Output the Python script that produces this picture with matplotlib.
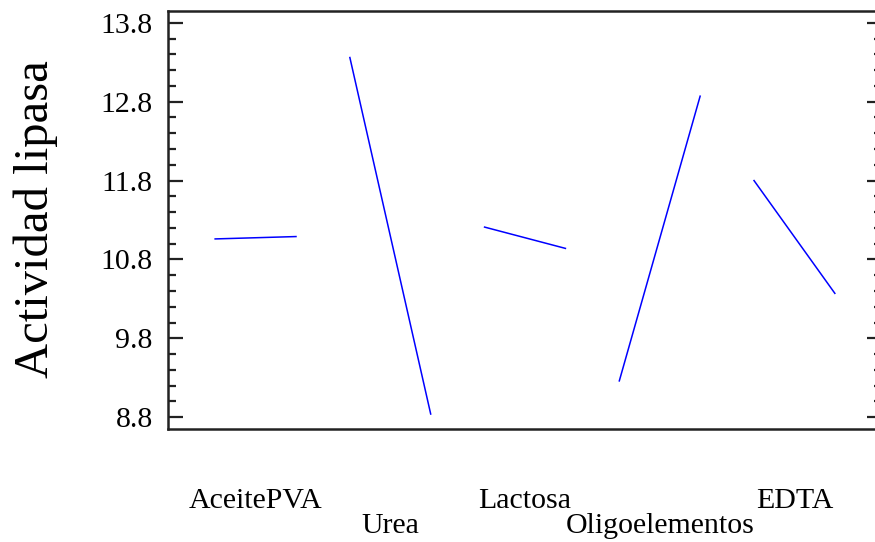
import numpy as np
import matplotlib
matplotlib.use("Agg")
import matplotlib.pyplot as plt
from matplotlib.ticker import MultipleLocator
from matplotlib.transforms import blended_transform_factory

# ============================================================
# DATA
# ============================================================

factors = ["AceitePVA", "Urea", "Lactosa", "Oligoelementos", "EDTA"]

# mean response at the low and high level of each factor
low_level = [11.06, 13.36, 11.21, 9.26, 11.80]
high_level = [11.09, 8.84, 10.94, 12.87, 10.37]

y_ticks = [8.8, 9.8, 10.8, 11.8, 12.8, 13.8]

# ============================================================
# PLOT
# ============================================================

plt.rcParams["font.family"] = ["Liberation Serif", "DejaVu Serif"]

fig = plt.figure(figsize=(8.75, 5.42), dpi=100)
ax = fig.add_axes([0.192, 0.2085, 0.816, 0.7712])

seg_width = 0.6

for i, (lo, hi) in enumerate(zip(low_level, high_level)):
    ax.plot([i, i + seg_width], [lo, hi], color="#0000ff", linewidth=1.1)

ax.set_xlim(-0.35, 4 + seg_width + 0.35)
ax.set_ylim(8.65, 13.95)

ax.set_yticks(y_ticks)
ax.set_yticklabels([f"{v:.1f}" for v in y_ticks])
ax.yaxis.set_minor_locator(MultipleLocator(0.2))
ax.set_xticks([])

ax.tick_params(axis="y", which="major", direction="in", length=11,
               width=1.6, labelsize=21.5, pad=11, right=True,
               color="#222222")
ax.tick_params(axis="y", which="minor", direction="in", length=6,
               width=1.6, right=True, color="#222222")

for side in ax.spines.values():
    side.set_linewidth(1.8)
    side.set_color("#222222")

ax.set_ylabel("Actividad lipasa", fontsize=35)
ax.yaxis.set_label_coords(-0.154, 0.502)

# factor names staggered on two rows under the axis
trans = blended_transform_factory(ax.transData, fig.transFigure)
row_y = [0.0627, 0.0166]
for i, name in enumerate(factors):
    ax.text(i + seg_width / 2, row_y[i % 2], name, transform=trans,
            ha="center", va="baseline", fontsize=21.5, clip_on=False)

plt.savefig("out.png", dpi=100)
plt.close()
